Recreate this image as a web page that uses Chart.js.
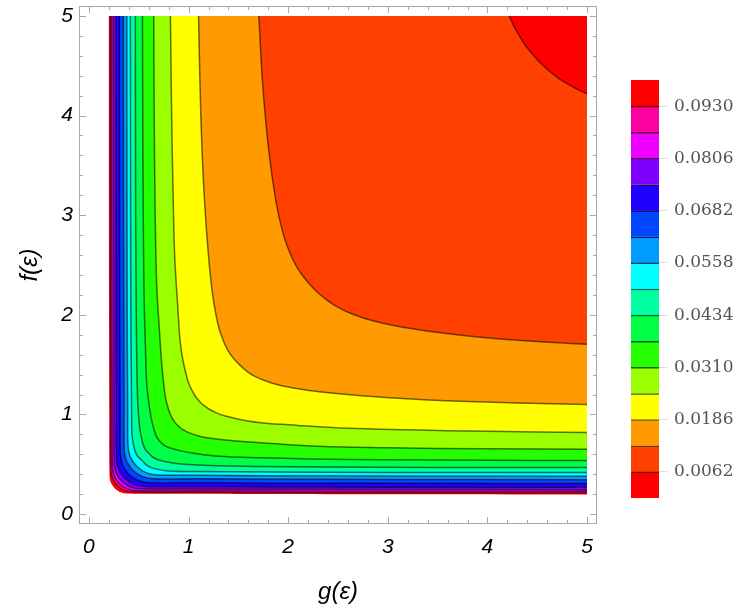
<!DOCTYPE html>
<html>
<head>
<meta charset="utf-8">
<title>Contour plot f(ε) / g(ε)</title>
<script src="https://cdn.jsdelivr.net/npm/chart.js@4.4.1/dist/chart.umd.min.js"></script>
<style>
  html, body { margin: 0; padding: 0; background: #fff; }
  #wrap { position: relative; width: 750px; height: 615px; }
  #contourChart { position: absolute; left: 0; top: 0; }
  #barChart { position: absolute; left: 620px; top: 0; }
</style>
</head>
<body>
<div id="wrap">
  <canvas id="contourChart" width="750" height="615"></canvas>
  <canvas id="barChart" width="130" height="615"></canvas>
</div>
<script>
// Axis ticks
const X_TICKS = [0, 1, 2, 3, 4, 5];
const Y_TICKS = [0, 1, 2, 3, 4, 5];
const PLOT_MAX = 5; // top / right end of the sampled region

// Contour levels and colour bar
const LEVELS = [0.0062, 0.0124, 0.0186, 0.0248, 0.0310, 0.0372, 0.0434, 0.0496,
                0.0558, 0.0620, 0.0682, 0.0744, 0.0806, 0.0868, 0.0930];
const BAR_RANGE = [0, 0.0992];
const BAR_TICKS = [0.0062, 0.0186, 0.0310, 0.0434, 0.0558, 0.0682, 0.0806, 0.0930];

// Contour lines, [g, f] pairs
const C_0062 = [[4.22, 5], [4.26, 4.91], [4.31, 4.82], [4.37, 4.72], [4.44, 4.63], [4.53, 4.53],
                [4.63, 4.44], [4.72, 4.37], [4.82, 4.31], [4.91, 4.26], [5, 4.22]];
const C_0124 = [[1.705, 5], [1.745, 4.3], [1.805, 3.65], [1.875, 3.15], [1.94, 2.85], [2.005, 2.65], [2.075, 2.5], [2.14, 2.4],
                [2.26, 2.26], [2.4, 2.14], [2.5, 2.075], [2.65, 2.005], [2.85, 1.94], [3.15, 1.875], [3.65, 1.805], [4.3, 1.745], [5, 1.705]];
const C_0186 = [[1.10, 5], [1.115, 4.3], [1.135, 3.65], [1.16, 3.15], [1.195, 2.65], [1.235, 2.25], [1.275, 2.0], [1.31, 1.85],
                [1.345, 1.75], [1.38, 1.67], [1.415, 1.61], [1.45, 1.565], [1.505, 1.505], [1.565, 1.45], [1.61, 1.415], [1.67, 1.38],
                [1.75, 1.345], [1.85, 1.31], [2.0, 1.275], [2.25, 1.235], [2.65, 1.195], [3.15, 1.16], [3.65, 1.135], [4.3, 1.115], [5, 1.10]];
const C_0248 = [[0.818, 5], [0.83, 4.0], [0.845, 3.2], [0.86, 2.6], [0.89, 2.1], [0.914, 1.75], [0.942, 1.55], [0.986, 1.36], [1.015, 1.28],
                [1.057, 1.2], [1.085, 1.16], [1.12, 1.12], [1.16, 1.085], [1.2, 1.057], [1.28, 1.015], [1.36, 0.986], [1.55, 0.942],
                [1.75, 0.914], [2.1, 0.89], [2.6, 0.86], [3.2, 0.845], [4.0, 0.83], [5, 0.818]];
const C_0310 = [[0.65, 5], [0.655, 4.0], [0.665, 3.0], [0.68, 2.3], [0.71, 1.8], [0.735, 1.45], [0.763, 1.2], [0.784, 1.1], [0.817, 1.0],
                [0.843, 0.95], [0.864, 0.92], [0.89, 0.89], [0.92, 0.864], [0.95, 0.843], [1.0, 0.817], [1.1, 0.784], [1.2, 0.763],
                [1.45, 0.735], [1.8, 0.71], [2.3, 0.68], [3.0, 0.665], [4.0, 0.655], [5, 0.65]];
const C_0372 = [[0.537, 5], [0.54, 4.0], [0.545, 3.0], [0.553, 2.2], [0.565, 1.75], [0.58, 1.3], [0.61, 1.05], [0.634, 0.92], [0.668, 0.8],
                [0.69, 0.757], [0.72, 0.72], [0.757, 0.69], [0.8, 0.668], [0.92, 0.634], [1.05, 0.61], [1.3, 0.58], [1.75, 0.565],
                [2.2, 0.553], [3.0, 0.545], [4.0, 0.54], [5, 0.537]];
const C_0434 = [[0.466, 5], [0.468, 3.5], [0.472, 2.4], [0.478, 1.7], [0.487, 1.2], [0.497, 1.0], [0.513, 0.84], [0.54, 0.71], [0.565, 0.65],
                [0.605, 0.605], [0.65, 0.565], [0.71, 0.54], [0.84, 0.513], [1.0, 0.497], [1.2, 0.487], [1.7, 0.478], [2.4, 0.472], [3.5, 0.468], [5, 0.466]];
const C_0496 = [[0.416, 5], [0.418, 3.0], [0.422, 1.8], [0.428, 1.1], [0.432, 0.8], [0.456, 0.655], [0.485, 0.585],
                [0.535, 0.535], [0.585, 0.485], [0.655, 0.456], [0.8, 0.432], [1.1, 0.428], [1.8, 0.422], [3.0, 0.418], [5, 0.416]];
const C_0558 = [[0.38, 5], [0.382, 3.0], [0.385, 1.8], [0.389, 1.1], [0.392, 0.7], [0.413, 0.579],
                [0.48, 0.48], [0.579, 0.413], [0.7, 0.392], [1.1, 0.389], [1.8, 0.385], [3.0, 0.382], [5, 0.38]];
const C_0620 = [[0.345, 5], [0.347, 3.0], [0.35, 1.8], [0.353, 1.1], [0.354, 0.65], [0.376, 0.536],
                [0.44, 0.44], [0.536, 0.376], [0.65, 0.354], [1.1, 0.353], [1.8, 0.35], [3.0, 0.347], [5, 0.345]];
const C_0682 = [[0.306, 5], [0.308, 3.0], [0.31, 1.8], [0.313, 1.1], [0.315, 0.607], [0.336, 0.495],
                [0.40, 0.40], [0.495, 0.336], [0.607, 0.315], [1.1, 0.313], [1.8, 0.31], [3.0, 0.308], [5, 0.306]];
const C_0744 = [[0.268, 5], [0.27, 3.0], [0.272, 1.8], [0.275, 1.1], [0.277, 0.563], [0.298, 0.453],
                [0.36, 0.36], [0.453, 0.298], [0.563, 0.277], [1.1, 0.275], [1.8, 0.272], [3.0, 0.27], [5, 0.268]];
const C_0806 = [[0.245, 5], [0.247, 3.0], [0.249, 1.8], [0.251, 1.1], [0.253, 0.518], [0.272, 0.416],
                [0.33, 0.33], [0.416, 0.272], [0.518, 0.253], [1.1, 0.251], [1.8, 0.249], [3.0, 0.247], [5, 0.245]];
const C_0868 = [[0.228, 5], [0.229, 3.0], [0.231, 1.8], [0.233, 1.1], [0.235, 0.475], [0.253, 0.383],
                [0.305, 0.305], [0.383, 0.253], [0.475, 0.235], [1.1, 0.233], [1.8, 0.231], [3.0, 0.229], [5, 0.228]];
const C_0930 = [[0.213, 5], [0.214, 3.0], [0.216, 1.8], [0.218, 1.1], [0.22, 0.44], [0.237, 0.356],
                [0.284, 0.284], [0.356, 0.237], [0.44, 0.22], [1.1, 0.218], [1.8, 0.216], [3.0, 0.214], [5, 0.213]];
// Edge of the region where the function is defined
const DOMAIN_EDGE = [[0.197, 5], [0.199, 3.0], [0.202, 1.8], [0.204, 1.0], [0.206, 0.385], [0.219, 0.316],
                     [0.258, 0.258], [0.316, 0.219], [0.385, 0.206], [1.0, 0.204], [1.8, 0.202], [3.0, 0.199], [5, 0.197]];

const CONTOURS = [C_0062, C_0124, C_0186, C_0248, C_0310, C_0372, C_0434, C_0496,
                  C_0558, C_0620, C_0682, C_0744, C_0806, C_0868, C_0930];

// Band colours, lowest value first
const BAND_COLORS = ['#ff0000', '#ff4000', '#ff9a00', '#ffff00', '#9cff00', '#26ff00', '#00ff45', '#00ff9e',
                     '#00ffff', '#009cff', '#0045ff', '#2100ff', '#8000ff', '#ee00ff', '#ff00a0', '#ff0000'];

const LINE_COLOR = 'rgba(0, 0, 0, 0.55)';
const FRAME_COLOR = '#a8a8a8';
const TICK_FONT = { family: '"Liberation Sans", Arial, sans-serif', size: 21, style: 'italic' };
const TITLE_FONT = { family: '"Liberation Sans", Arial, sans-serif', size: 24, style: 'italic' };

function toPoints(curve) {
    return curve.map(([x, y]) => ({ x, y }));
}

// half way to black, used for the colour bar separators
function darken(hex) {
    const n = parseInt(hex.slice(1), 16);
    const r = (n >> 16) & 255, g = (n >> 8) & 255, b = n & 255;
    return `rgb(${Math.round(r * 0.4)}, ${Math.round(g * 0.4)}, ${Math.round(b * 0.4)})`;
}

// Frame with inward ticks on all four sides (Mathematica style)
const frameTicks = {
    id: 'frameTicks',
    afterDatasetsDraw(chart) {
        const { ctx, chartArea: a, scales: { x, y } } = chart;
        ctx.save();
        ctx.strokeStyle = FRAME_COLOR;
        ctx.lineWidth = 1;
        ctx.strokeRect(a.left + 0.5, a.top + 0.5, a.right - a.left - 1, a.bottom - a.top - 1);
        ctx.beginPath();
        for (let i = 0; i <= 25; i++) {
            const v = i / 5;
            const len = i % 5 === 0 ? 7 : 4;
            const px = Math.round(x.getPixelForValue(v)) + 0.5;
            const py = Math.round(y.getPixelForValue(v)) + 0.5;
            ctx.moveTo(px, a.bottom); ctx.lineTo(px, a.bottom - len);
            ctx.moveTo(px, a.top); ctx.lineTo(px, a.top + len);
            ctx.moveTo(a.left, py); ctx.lineTo(a.left + len, py);
            ctx.moveTo(a.right, py); ctx.lineTo(a.right - len, py);
        }
        ctx.stroke();
        ctx.restore();
    }
};

// Contour plot: each level line is filled up to the top of the plot,
// the lowest values first drawn last (dataset 0 ends on top)
function drawContourChart() {
    const datasets = CONTOURS.map((curve, i) => ({
        data: toPoints(curve),
        fill: { value: PLOT_MAX },
        backgroundColor: BAND_COLORS[i],
        borderColor: LINE_COLOR,
        borderWidth: 1.5
    }));
    datasets.push({
        data: toPoints(DOMAIN_EDGE),
        fill: { value: PLOT_MAX },
        backgroundColor: BAND_COLORS[BAND_COLORS.length - 1],
        borderColor: 'transparent',
        borderWidth: 0
    });

    new Chart(document.getElementById('contourChart'), {
        type: 'line',
        data: { datasets },
        options: {
            responsive: false,
            animation: false,
            events: [],
            layout: { padding: { top: 6, right: 153, left: 0, bottom: 0 } },
            elements: { point: { radius: 0 }, line: { tension: 0.35 } },
            plugins: {
                legend: { display: false },
                tooltip: { enabled: false },
                filler: { drawTime: 'beforeDatasetsDraw' }
            },
            scales: {
                x: {
                    type: 'linear',
                    min: -0.1,
                    max: 5.1,
                    afterBuildTicks: (s) => { s.ticks = X_TICKS.map(v => ({ value: v })); },
                    afterFit: (s) => { s.height = 91; s.paddingLeft = 0; s.paddingRight = 0; },
                    grid: { display: false, drawTicks: false },
                    border: { display: false },
                    ticks: { color: '#000', font: TICK_FONT, padding: 11, maxRotation: 0 },
                    title: { display: true, text: 'g(ε)', color: '#000', font: TITLE_FONT, padding: { top: 0, bottom: 8 } }
                },
                y: {
                    type: 'linear',
                    min: -0.1,
                    max: 5.1,
                    afterBuildTicks: (s) => { s.ticks = Y_TICKS.map(v => ({ value: v })); },
                    afterFit: (s) => { s.width = 79; s.paddingTop = 0; s.paddingBottom = 0; },
                    grid: { display: false, drawTicks: false },
                    border: { display: false },
                    ticks: { color: '#000', font: TICK_FONT, padding: 6 },
                    title: { display: true, text: 'f(ε)', color: '#000', font: TITLE_FONT, padding: { top: 16, bottom: 0 } }
                }
            }
        },
        plugins: [frameTicks]
    });
}

// Colour bar: one floating bar per band, between neighbouring levels
function drawColorBar() {
    const bounds = [BAR_RANGE[0], ...LEVELS, BAR_RANGE[1]];
    const datasets = BAND_COLORS.map((color, i) => ({
        data: [[bounds[i], bounds[i + 1]]],
        backgroundColor: color,
        borderColor: darken(BAND_COLORS[Math.min(i + 1, BAND_COLORS.length - 1)]),
        borderWidth: i < BAND_COLORS.length - 1 ? { top: 1.5, right: 0, bottom: 0, left: 0 } : 0,
        borderSkipped: false,
        grouped: false,
        barPercentage: 1,
        categoryPercentage: 1
    }));

    new Chart(document.getElementById('barChart'), {
        type: 'bar',
        data: { labels: [''], datasets },
        options: {
            responsive: false,
            animation: false,
            events: [],
            layout: { padding: { top: 80, bottom: 117, left: 11, right: 0 } },
            plugins: { legend: { display: false }, tooltip: { enabled: false } },
            scales: {
                x: { display: false },
                y: {
                    position: 'right',
                    min: BAR_RANGE[0],
                    max: BAR_RANGE[1],
                    afterBuildTicks: (s) => { s.ticks = BAR_TICKS.map(v => ({ value: v })); },
                    afterFit: (s) => { s.width = 91; },
                    grid: { display: true, drawOnChartArea: false, drawTicks: true, tickLength: 8, color: '#dcdcdc' },
                    border: { display: false },
                    ticks: {
                        autoSkip: false,
                        padding: 7,
                        color: '#555',
                        font: { family: '"DejaVu Serif", serif', size: 17 },
                        callback: (v) => v.toFixed(4)
                    }
                }
            }
        }
    });
}

drawContourChart();
drawColorBar();
</script>
</body>
</html>
